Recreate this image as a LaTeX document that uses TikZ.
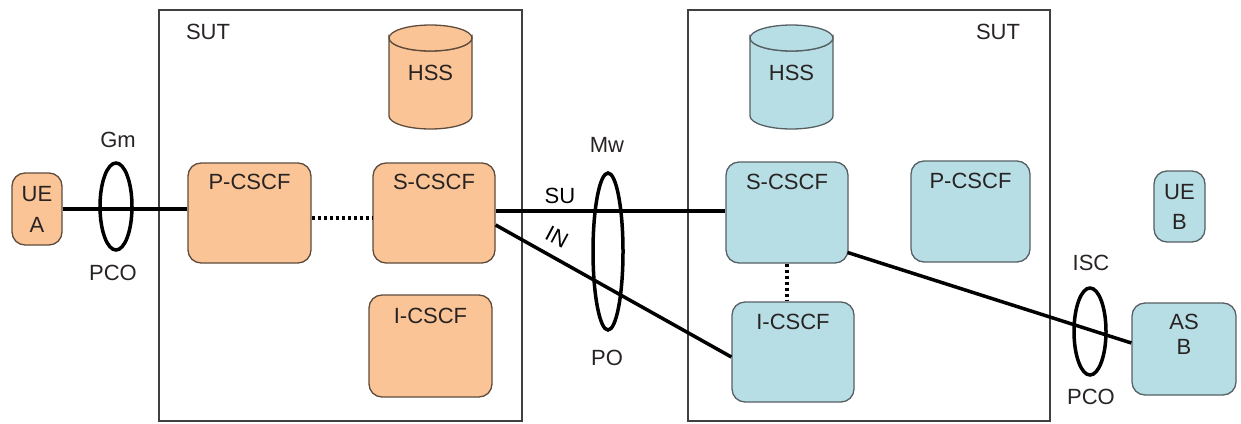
\documentclass[tikz,border=0pt]{standalone}
\usepackage{fontspec}
\setmainfont{Liberation Sans}
\definecolor{orfill}{RGB}{250,196,150}
\definecolor{ordraw}{RGB}{95,75,60}
\definecolor{blfill}{RGB}{183,222,228}
\definecolor{bldraw}{RGB}{85,95,100}
\definecolor{txt}{RGB}{40,35,35}
\begin{document}
\begin{tikzpicture}[x=1pt,y=-1pt,
  every node/.style={font=\fontsize{22}{26}\selectfont, text=txt},
  obox/.style={draw=ordraw, fill=orfill, rounded corners=13pt, line width=1.3pt, inner sep=0pt},
  bbox/.style={draw=bldraw, fill=blfill, rounded corners=13pt, line width=1.3pt, inner sep=0pt},
  sutbox/.style={draw=black!75, line width=1.1pt},
  link/.style={line width=3.5pt, black},
  dotlink/.style={line width=3.5pt, black, dash pattern=on 3.5pt off 2.5pt},
  ring/.style={line width=3.5pt, black},
  cyl/.style={line width=1.3pt},
  toplabel/.style={anchor=center}
]
\useasboundingbox (0,0) rectangle (1241,423);

% SUT boxes
\draw[sutbox] (159,10) rectangle (522,421);
\draw[sutbox] (688,10) rectangle (1050,421);
\node (sut1) at (208,32) {SUT};
\node (sut2) at (998,32) {SUT};

% HSS cylinders
\draw[cyl, draw=ordraw, fill=orfill] (389,38) -- (389,116)
  arc[start angle=180, end angle=0, x radius=41.5, y radius=13] -- (472,38)
  arc[start angle=0, end angle=180, x radius=41.5, y radius=13] -- cycle;
\draw[cyl, draw=ordraw, fill=orfill] (430.5,38) ellipse[x radius=41.5, y radius=13];
\node (hss1) at (430.5,73) {HSS};

\draw[cyl, draw=bldraw, fill=blfill] (750,38) -- (750,116)
  arc[start angle=180, end angle=0, x radius=41.5, y radius=13] -- (833,38)
  arc[start angle=0, end angle=180, x radius=41.5, y radius=13] -- cycle;
\draw[cyl, draw=bldraw, fill=blfill] (791.5,38) ellipse[x radius=41.5, y radius=13];
\node (hss2) at (791.5,73) {HSS};

% Left domain
\node[obox, minimum width=50pt, minimum height=72pt, align=center] (uea) at (37,209) {UE\\[5pt]A};
\node[obox, minimum width=123pt, minimum height=100pt,
  label={[toplabel,yshift=-20pt]north:P-CSCF}] (pcscfL) at (249.5,213) {};
\node[obox, minimum width=122pt, minimum height=100pt,
  label={[toplabel,yshift=-20pt]north:S-CSCF}] (scscfL) at (434,213) {};
\node[obox, minimum width=123pt, minimum height=102pt,
  label={[toplabel,yshift=-22pt]north:I-CSCF}] (icscfL) at (430.5,346) {};

% Right domain
\node[bbox, minimum width=122pt, minimum height=101pt,
  label={[toplabel,yshift=-21pt]north:S-CSCF}] (scscfR) at (787,212.5) {};
\node[bbox, minimum width=119pt, minimum height=101pt,
  label={[toplabel,yshift=-21pt]north:P-CSCF}] (pcscfR) at (970.5,211.5) {};
\node[bbox, minimum width=122pt, minimum height=100pt,
  label={[toplabel,yshift=-21pt]north:I-CSCF}] (icscfR) at (793,352) {};
\node[bbox, minimum width=51pt, minimum height=71pt, align=center] (ueb) at (1179.5,206.5) {UE\\[4pt]B};
\node[bbox, minimum width=104pt, minimum height=92pt,
  label={[toplabel,align=center,yshift=-31.5pt]north:AS\\[-1pt]B}] (asb) at (1184,349) {};

% Connectors
\draw[link] (uea.east) -- (uea.east -| pcscfL.west);
\draw[dotlink] ([yshift=-5pt]pcscfL.east) -- ([yshift=-5pt]scscfL.west);
\draw[link] ([yshift=2pt]scscfL.east) -- ([yshift=2pt]scscfL.east -| scscfR.west);
\draw[link] ([yshift=-12pt]scscfL.east) -- ([yshift=-5pt]icscfR.west);
\draw[dotlink] (scscfR.south) -- (scscfR.south |- icscfR.north);
\draw[link] ([xshift=-1pt,yshift=-40pt]scscfR.east) -- ([yshift=6pt]asb.west);

% Reference point rings
\draw[ring] (116,206.5) ellipse[x radius=16, y radius=43.5];
\draw[ring] (608,251.5) ellipse[x radius=15, y radius=78.5];
\draw[ring] (1090,331.5) ellipse[x radius=16, y radius=43.5];

% Labels
\node (gm) at (118,140) {Gm};
\node (pco1) at (113,273) {PCO};
\node (mw) at (607,145) {Mw};
\node (po) at (607,358) {PO};
\node (isc) at (1091,263) {ISC};
\node (pco2) at (1091,397) {PCO};
\node[text=black, inner sep=1pt] (su) at (560,196) {SU};
\node[text=black, rotate=-28, inner sep=1pt] (in) at (557,237) {IN};
\end{tikzpicture}
\end{document}
